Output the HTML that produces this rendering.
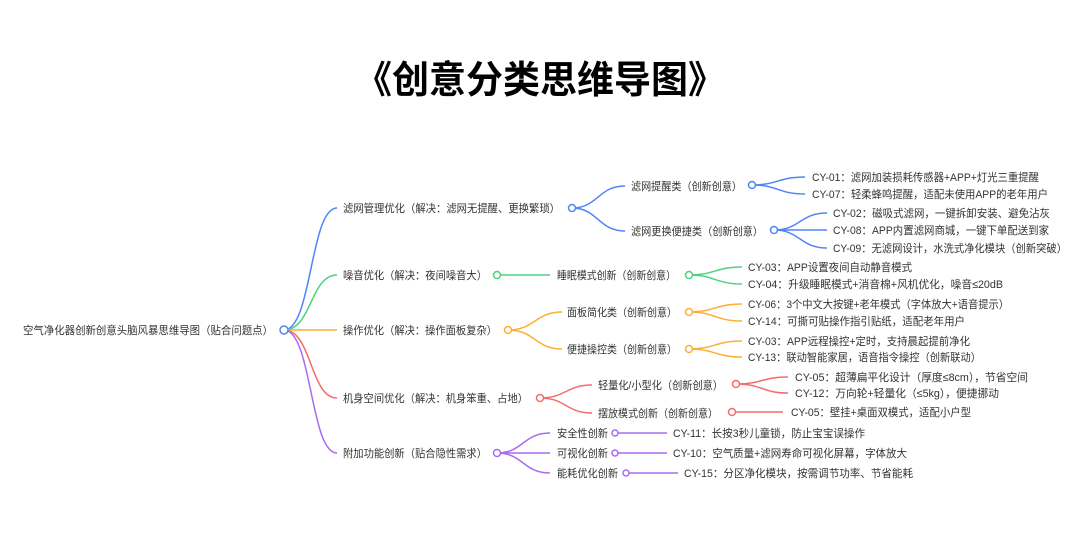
<!DOCTYPE html>
<html><head><meta charset="utf-8"><style>
body{margin:0;background:#fff;}
svg{display:block}
text{font-family:"Liberation Sans","Noto Sans CJK SC",sans-serif;font-size:11px;fill:#333;dominant-baseline:middle}
.t{font-size:38px;font-weight:bold;fill:#000;}
path,line{fill:none;stroke-width:1.5}
circle{fill:#fff;stroke-width:1.5}
.b{stroke:#4e86f5}.g{stroke:#4cd47d}.o{stroke:#ffad33}.r{stroke:#f56b6b}.p{stroke:#a86cf0}
</style></head><body>
<svg width="1080" height="558" viewBox="0 0 1080 558">
<text class="t" x="355" y="83" textLength="370" lengthAdjust="spacingAndGlyphs">《创意分类思维导图》</text>
<text x="23" y="331" textLength="250" lengthAdjust="spacingAndGlyphs">空气净化器创新创意头脑风暴思维导图（贴合问题点）</text>
<!-- level1 -->
<path class="b" d="M284 330 C312 330 310 208 337 208"/>
<path class="g" d="M284 330 C312 330 310 275 337 275"/>
<path class="o" d="M284 330 L337 330"/>
<path class="r" d="M284 330 C312 330 310 398 337 398"/>
<path class="p" d="M284 330 C312 330 310 453 337 453"/>
<circle class="b" cx="284" cy="330" r="4"/>
<text x="343" y="209" textLength="217" lengthAdjust="spacingAndGlyphs">滤网管理优化（解决：滤网无提醒、更换繁琐）</text>
<text x="343" y="276" textLength="144" lengthAdjust="spacingAndGlyphs">噪音优化（解决：夜间噪音大）</text>
<text x="343" y="331" textLength="154" lengthAdjust="spacingAndGlyphs">操作优化（解决：操作面板复杂）</text>
<text x="343" y="399" textLength="185" lengthAdjust="spacingAndGlyphs">机身空间优化（解决：机身笨重、占地）</text>
<text x="343" y="454" textLength="144" lengthAdjust="spacingAndGlyphs">附加功能创新（贴合隐性需求）</text>
<!-- blue -->
<path class="b" d="M572 208 C598 208 598 186 625 186"/>
<path class="b" d="M572 208 C598 208 598 231 625 231"/>
<circle class="b" cx="572" cy="208" r="3.5"/>
<text x="631" y="187" textLength="111" lengthAdjust="spacingAndGlyphs">滤网提醒类（创新创意）</text>
<text x="631" y="232" textLength="132" lengthAdjust="spacingAndGlyphs">滤网更换便捷类（创新创意）</text>
<path class="b" d="M752 185 C778 185 778 177 805 177"/>
<path class="b" d="M752 185 C778 185 778 194 805 194"/>
<circle class="b" cx="752" cy="185" r="3.5"/>
<text x="812" y="178" textLength="227" lengthAdjust="spacingAndGlyphs">CY-01：滤网加装损耗传感器+APP+灯光三重提醒</text>
<text x="812" y="195" textLength="236" lengthAdjust="spacingAndGlyphs">CY-07：轻柔蜂鸣提醒，适配未使用APP的老年用户</text>
<path class="b" d="M774 230 C800 230 800 213 827 213"/>
<path class="b" d="M774 230 L827 230"/>
<path class="b" d="M774 230 C800 230 800 248 827 248"/>
<circle class="b" cx="774" cy="230" r="3.5"/>
<text x="833" y="214" textLength="217" lengthAdjust="spacingAndGlyphs">CY-02：磁吸式滤网，一键拆卸安装、避免沾灰</text>
<text x="833" y="231" textLength="216" lengthAdjust="spacingAndGlyphs">CY-08：APP内置滤网商城，一键下单配送到家</text>
<text x="833" y="249" textLength="234" lengthAdjust="spacingAndGlyphs">CY-09：无滤网设计，水洗式净化模块（创新突破）</text>
<!-- green -->
<line class="g" x1="497" y1="275" x2="550" y2="275"/>
<circle class="g" cx="497" cy="275" r="3.5"/>
<text x="557" y="276" textLength="119" lengthAdjust="spacingAndGlyphs">睡眠模式创新（创新创意）</text>
<path class="g" d="M689 275 C715 275 715 267 742 267"/>
<path class="g" d="M689 275 C715 275 715 284 742 284"/>
<circle class="g" cx="689" cy="275" r="3.5"/>
<text x="748" y="268" textLength="164" lengthAdjust="spacingAndGlyphs">CY-03：APP设置夜间自动静音模式</text>
<text x="748" y="285" textLength="255" lengthAdjust="spacingAndGlyphs">CY-04：升级睡眠模式+消音棉+风机优化，噪音≤20dB</text>
<!-- orange -->
<path class="o" d="M508 330 C535 330 535 312 562 312"/>
<path class="o" d="M508 330 C535 330 535 349 562 349"/>
<circle class="o" cx="508" cy="330" r="3.5"/>
<text x="567" y="313" textLength="110" lengthAdjust="spacingAndGlyphs">面板简化类（创新创意）</text>
<text x="567" y="350" textLength="110" lengthAdjust="spacingAndGlyphs">便捷操控类（创新创意）</text>
<path class="o" d="M689 312 C715 312 715 304 742 304"/>
<path class="o" d="M689 312 C715 312 715 321 742 321"/>
<circle class="o" cx="689" cy="312" r="3.5"/>
<path class="o" d="M689 349 C715 349 715 341 742 341"/>
<path class="o" d="M689 349 C715 349 715 357 742 357"/>
<circle class="o" cx="689" cy="349" r="3.5"/>
<text x="748" y="305" textLength="261" lengthAdjust="spacingAndGlyphs">CY-06：3个中文大按键+老年模式（字体放大+语音提示）</text>
<text x="748" y="322" textLength="217" lengthAdjust="spacingAndGlyphs">CY-14：可撕可贴操作指引贴纸，适配老年用户</text>
<text x="748" y="342" textLength="222" lengthAdjust="spacingAndGlyphs">CY-03：APP远程操控+定时，支持晨起提前净化</text>
<text x="748" y="358" textLength="233" lengthAdjust="spacingAndGlyphs">CY-13：联动智能家居，语音指令操控（创新联动）</text>
<!-- red -->
<path class="r" d="M540 398 C566 398 566 385 592 385"/>
<path class="r" d="M540 398 C566 398 566 413 592 413"/>
<circle class="r" cx="540" cy="398" r="3.5"/>
<text x="598" y="386" textLength="125" lengthAdjust="spacingAndGlyphs">轻量化/小型化（创新创意）</text>
<text x="598" y="414" textLength="120" lengthAdjust="spacingAndGlyphs">摆放模式创新（创新创意）</text>
<path class="r" d="M736 384 C762 384 762 377 788 377"/>
<path class="r" d="M736 384 C762 384 762 393 788 393"/>
<circle class="r" cx="736" cy="384" r="3.5"/>
<line class="r" x1="732" y1="412" x2="783" y2="412"/>
<circle class="r" cx="732" cy="412" r="3.5"/>
<text x="795" y="378" textLength="233" lengthAdjust="spacingAndGlyphs">CY-05：超薄扁平化设计（厚度≤8cm），节省空间</text>
<text x="795" y="394" textLength="204" lengthAdjust="spacingAndGlyphs">CY-12：万向轮+轻量化（≤5kg），便捷挪动</text>
<text x="791" y="413" textLength="180" lengthAdjust="spacingAndGlyphs">CY-05：壁挂+桌面双模式，适配小户型</text>
<!-- purple -->
<path class="p" d="M497 453 C523 453 523 433 550 433"/>
<path class="p" d="M497 453 L550 453"/>
<path class="p" d="M497 453 C523 453 523 473 550 473"/>
<circle class="p" cx="497" cy="453" r="3.5"/>
<text x="557" y="434" textLength="51" lengthAdjust="spacingAndGlyphs">安全性创新</text>
<text x="557" y="454" textLength="51" lengthAdjust="spacingAndGlyphs">可视化创新</text>
<text x="557" y="474" textLength="61" lengthAdjust="spacingAndGlyphs">能耗优化创新</text>
<line class="p" x1="615" y1="433" x2="667" y2="433"/>
<line class="p" x1="615" y1="453" x2="667" y2="453"/>
<line class="p" x1="626" y1="473" x2="678" y2="473"/>
<circle class="p" cx="615" cy="433" r="3"/>
<circle class="p" cx="615" cy="453" r="3"/>
<circle class="p" cx="626" cy="473" r="3"/>
<text x="673" y="434" textLength="192" lengthAdjust="spacingAndGlyphs">CY-11：长按3秒儿童锁，防止宝宝误操作</text>
<text x="673" y="454" textLength="234" lengthAdjust="spacingAndGlyphs">CY-10：空气质量+滤网寿命可视化屏幕，字体放大</text>
<text x="684" y="474" textLength="229" lengthAdjust="spacingAndGlyphs">CY-15：分区净化模块，按需调节功率、节省能耗</text>
</svg>
</body></html>
